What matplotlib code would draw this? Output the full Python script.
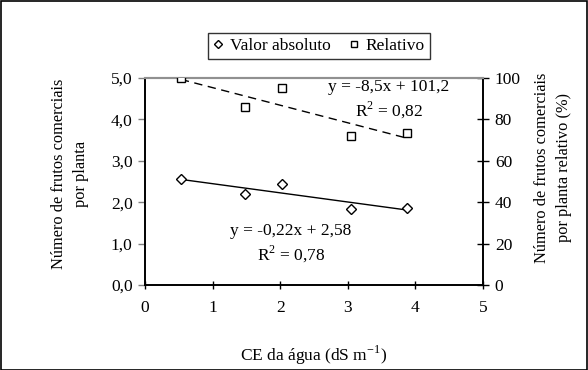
import matplotlib
matplotlib.use("Agg")
import matplotlib.pyplot as plt
import numpy as np
from matplotlib.patches import Rectangle

plt.rcParams['font.family'] = ['Liberation Serif', 'DejaVu Serif']
plt.rcParams['mathtext.fontset'] = 'custom'
plt.rcParams['mathtext.rm'] = 'Liberation Serif'

# Data
ce = [0.53, 1.48, 2.02, 3.04, 3.88]
valor_absoluto = [2.57, 2.20, 2.44, 1.84, 1.87]
relativo = [100.0, 86.0, 95.0, 72.0, 73.2]
eq_abs = "y = -0,22x + 2,58\nR$^2$ = 0,78"
eq_rel = "y = -8,5x + 101,2\nR$^2$ = 0,82"
xticks = [0, 1, 2, 3, 4, 5]
yticks_left = [0, 1, 2, 3, 4, 5]
ytick_left_labels = ["0,0", "1,0", "2,0", "3,0", "4,0", "5,0"]
yticks_right = [0, 20, 40, 60, 80, 100]

W, H = 588, 370
fig = plt.figure(figsize=(W/100, H/100), dpi=100)
fs = 12.5
fs_lab = 11.8

ax = fig.add_axes([145/W, 1-285/H, (483-145)/W, (285-78)/H])
ax2 = ax.twinx()

# trend lines
xs = np.array([min(ce), max(ce)])
p1 = np.polyfit(ce, valor_absoluto, 1)
p2 = np.polyfit(ce, relativo, 1)
ax.plot(xs, np.polyval(p1, xs), color='black', lw=1.0, zorder=2)
ax2.plot(xs, np.polyval(p2, xs), color='black', lw=1.0, ls=(0, (6, 4)), zorder=2)

ax.plot(ce, valor_absoluto, ls='none', marker='D', ms=5.5, mfc='white', mec='black', mew=1.0,
        label='Valor absoluto', zorder=3)
ax2.plot(ce, relativo, ls='none', marker='s', ms=6, mfc='white', mec='black', mew=1.0,
         label='Relativo', zorder=3)

ax.set_xlim(0, 5)
ax.set_ylim(0, 5)
ax2.set_ylim(0, 100)
ax.set_xticks(xticks)
ax.set_xticklabels([str(v) for v in xticks], fontsize=fs)
ax.set_yticks(yticks_left)
ax.set_yticklabels(ytick_left_labels, fontsize=fs)
ax2.set_yticks(yticks_right)
ax2.set_yticklabels([str(v) for v in yticks_right], fontsize=fs)

ax.tick_params(axis='x', direction='inout', length=6, width=1, pad=8)
ax.tick_params(axis='y', direction='out', length=5, width=1, pad=4, color='#808080')
ax2.tick_params(axis='y', direction='inout', length=9, width=1, pad=4)

for a in (ax, ax2):
    for s in a.spines.values():
        s.set_linewidth(1.2)
    a.spines['top'].set_color('#909090')
    a.spines['top'].set_linewidth(1.5)

ax.set_xlabel("CE da água (dS m$^{-1}$)", fontsize=fs, labelpad=20)
fig.text(70/W, 1-174/H, "Número de frutos comerciais\npor planta", rotation=90,
         ha='center', va='center', fontsize=fs_lab, multialignment='center', linespacing=1.45)
fig.text(553/W, 1-168/H, "Número de frutos comerciais\npor planta relativo (%)", rotation=90,
         ha='center', va='center', fontsize=fs_lab, multialignment='center', linespacing=1.45)

ax.text(389/W, 1-100/H, eq_rel, transform=fig.transFigure, ha='center', va='center',
        fontsize=fs, multialignment='center', linespacing=1.3)
ax.text(291/W, 1-244/H, eq_abs, transform=fig.transFigure, ha='center', va='center',
        fontsize=fs, multialignment='center', linespacing=1.3)

h1, l1 = ax.get_legend_handles_labels()
h2, l2 = ax2.get_legend_handles_labels()
leg = fig.legend(h1 + h2, l1 + l2, loc='center', bbox_to_anchor=(319/W, 1-46/H), ncol=2,
                 fontsize=fs, frameon=True, fancybox=False, edgecolor='black',
                 handlelength=0.6, handletextpad=0.4, columnspacing=1.0, borderpad=0.3,
                 markerscale=0.8)
leg.get_frame().set_linewidth(1.0)

fig.patches.append(Rectangle((0.5/W, 0.5/H), 1-1.5/W, 1-1.5/H, transform=fig.transFigure,
                             fill=False, edgecolor='black', lw=1.2))

fig.savefig("out.png", dpi=100)
